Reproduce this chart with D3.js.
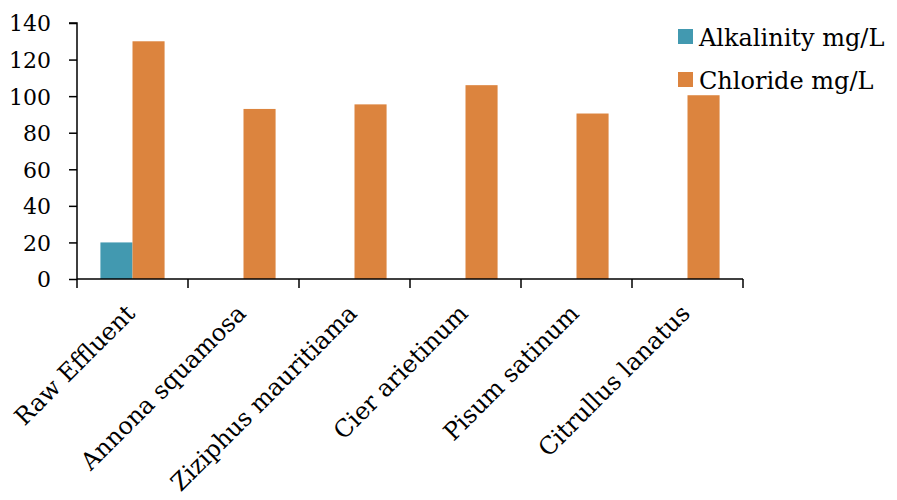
<!DOCTYPE html>
<html>
<head>
<meta charset="utf-8">
<script src="https://cdn.jsdelivr.net/npm/d3@7"></script>
<style>
  html, body { margin: 0; padding: 0; background: #fff; }
  svg text { font-family: "DejaVu Serif", "Liberation Serif", serif; fill: #000; }
</style>
</head>
<body>
<svg id="chart" width="897" height="500"></svg>
<script>
const categories = ["Raw Effluent", "Annona squamosa", "Ziziphus mauritiama", "Cier arietinum", "Pisum satinum", "Citrullus lanatus"];
const seriesNames = ["Alkalinity mg/L", "Chloride mg/L"];
const alkalinity = [20, 0, 0, 0, 0, 0];
const chloride = [130, 93, 95.5, 106, 90.5, 100.5];
const yTicks = [0, 20, 40, 60, 80, 100, 120, 140];
const colors = ["#4299B0", "#DC843E"];

const seriesValues = [alkalinity, chloride];
const svg = d3.select("#chart");

const margin = { left: 77, right: 154, top: 23, bottom: 221 };
const W = 897, H = 500;

const x = d3.scaleBand().domain(categories).range([margin.left, W - margin.right]).paddingInner(0).paddingOuter(0);
const xInner = d3.scaleBand().domain(seriesNames).range([0, x.bandwidth()]).paddingInner(0).paddingOuter(0.73);
const y = d3.scaleLinear().domain([0, 140]).range([H - margin.bottom, margin.top]);

// bars
seriesNames.forEach((s, si) => {
  svg.append("g")
    .selectAll("rect")
    .data(categories.map((c, i) => ({ c, v: seriesValues[si][i] })))
    .join("rect")
    .attr("x", d => x(d.c) + xInner(s))
    .attr("width", xInner.bandwidth())
    .attr("y", d => y(d.v))
    .attr("height", d => y(0) - y(d.v))
    .attr("fill", colors[si]);
});

// y axis
const yAxis = svg.append("g")
  .attr("transform", `translate(${margin.left},0)`)
  .call(d3.axisLeft(y).tickValues(yTicks).tickSize(8).tickPadding(18).tickFormat(d3.format("d")));
yAxis.select(".domain").attr("stroke", "#000").attr("stroke-width", 1.5).attr("d", `M-8,${y(140)}H0V${y(0)}`);
yAxis.selectAll(".tick line").attr("stroke", "#000").attr("stroke-width", 1.5);
yAxis.selectAll("text").style("font-size", "22px").style("font-family", "'DejaVu Serif', 'Liberation Serif', serif").attr("dy", "0.36em");

// x axis with ticks at category boundaries
const xAxisG = svg.append("g").attr("transform", `translate(0,${y(0)})`);
xAxisG.append("line")
  .attr("x1", margin.left).attr("x2", W - margin.right)
  .attr("y1", 0).attr("y2", 0)
  .attr("stroke", "#000").attr("stroke-width", 1.5);
const bounds = categories.map(c => x(c)).concat([x(categories[categories.length - 1]) + x.bandwidth()]);
xAxisG.selectAll("line.tick")
  .data(bounds)
  .join("line")
  .attr("class", "tick")
  .attr("x1", d => d).attr("x2", d => d)
  .attr("y1", 0).attr("y2", 9)
  .attr("stroke", "#000").attr("stroke-width", 1.5);
xAxisG.selectAll("text")
  .data(categories)
  .join("text")
  .attr("transform", d => `translate(${x(d) + x.bandwidth() / 2 - 8},${24}) rotate(-45)`)
  .attr("text-anchor", "end")
  .attr("dy", "0.7em")
  .style("font-size", "24px")
  .text(d => d);

// legend
const legend = svg.append("g").attr("transform", "translate(678,0)");
seriesNames.forEach((s, i) => {
  const g = legend.append("g").attr("transform", `translate(0,${29 + i * 43})`);
  g.append("rect").attr("x", 0).attr("y", 0).attr("width", 15).attr("height", 15).attr("fill", colors[i]);
  g.append("text").attr("x", 21).attr("y", 17).style("font-size", "24px").text(s);
});
</script>
</body>
</html>
